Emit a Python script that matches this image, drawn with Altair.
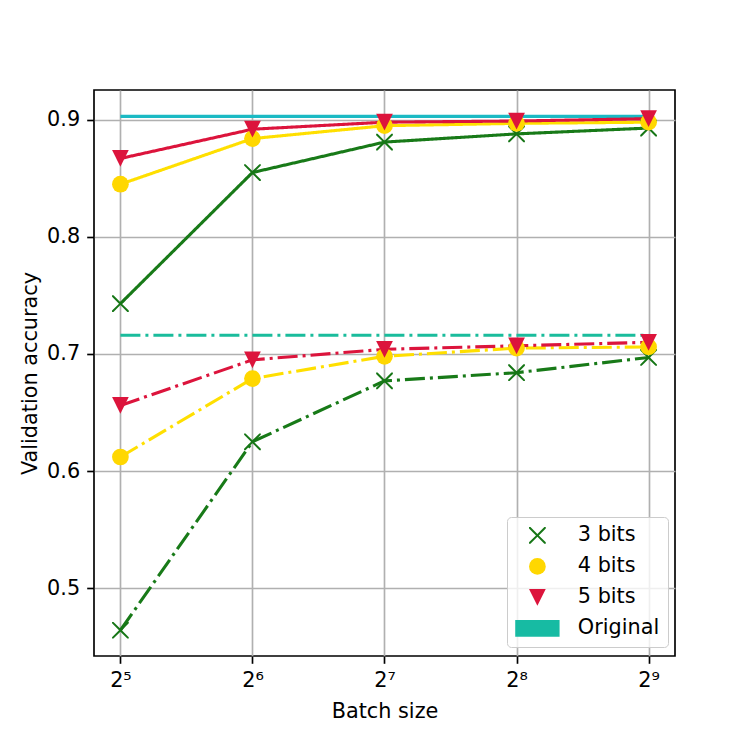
import altair as alt
import pandas as pd

# ---- data ----
batch_sizes = [32, 64, 128, 256, 512]
exponents = [5, 6, 7, 8, 9]
series_names = ["3 bits", "4 bits", "5 bits"]

solid_3bits = [0.743, 0.855, 0.881, 0.888, 0.893]
solid_4bits = [0.845, 0.884, 0.895, 0.897, 0.898]
solid_5bits = [0.867, 0.892, 0.898, 0.899, 0.901]

dashdot_3bits = [0.464, 0.625, 0.677, 0.684, 0.697]
dashdot_4bits = [0.612, 0.679, 0.698, 0.705, 0.706]
dashdot_5bits = [0.656, 0.695, 0.704, 0.707, 0.710]

original_solid = 0.903
original_dashdot = 0.716

y_ticks = [0.5, 0.6, 0.7, 0.8, 0.9]

# ---- build tables ----
rows = []
for name, solid, dd in [("3 bits", solid_3bits, dashdot_3bits),
                        ("4 bits", solid_4bits, dashdot_4bits),
                        ("5 bits", solid_5bits, dashdot_5bits)]:
    for b, v in zip(batch_sizes, solid):
        rows.append({"batch": b, "acc": v, "series": name, "style": "solid"})
    for b, v in zip(batch_sizes, dd):
        rows.append({"batch": b, "acc": v, "series": name, "style": "dashdot"})
df = pd.DataFrame(rows)

orig_solid_df = pd.DataFrame({"start": [batch_sizes[0]], "end": [batch_sizes[-1]], "acc": [original_solid]})
orig_dd_df = pd.DataFrame({"start": [batch_sizes[0]], "end": [batch_sizes[-1]], "acc": [original_dashdot]})

FONT = "DejaVu Sans"
FS = 20.8
LW = 3.1

sup = {5: "⁵", 6: "⁶", 7: "⁷", 8: "⁸", 9: "⁹"}
label_expr = ""
for b, e in zip(batch_sizes, exponents):
    label_expr += f"datum.value == {b} ? '2{sup[e]}' : "
label_expr += "''"

x_scale = alt.Scale(type="log", base=2, domain=[2 ** 4.8, 2 ** 9.2], nice=False, zero=False)
y_scale = alt.Scale(domain=[0.442, 0.9255], nice=False, zero=False)

x_axis = alt.Axis(values=batch_sizes, labelExpr=label_expr, title="Batch size",
                  grid=True, labelFlush=False)
y_axis = alt.Axis(values=y_ticks, format=".1f", title="Validation accuracy", grid=True)

domain_all = series_names + ["Original"]
color_range = ["#167616", "#FFD700", "#DC143C", "#17BBA3"]
line_range = ["#187A18", "#FFDF00", "#DC143C"]
k = 0.17
x_path = (f"M{1-k},1L1,1L1,{1-k}L{k},0L1,{-1+k}L1,-1L{1-k},-1L0,{-k}"
          f"L{-1+k},-1L-1,-1L-1,{-1+k}L{-k},0L-1,{1-k}L-1,1L{-1+k},1L0,{k}Z")
tri_path = "M-1,-1L1,-1L0,1Z"
rect_path = "M-2.65,-1H2.65V1H-2.65Z"
shape_range = [x_path, "circle", tri_path, rect_path]

color_scale = alt.Scale(domain=domain_all, range=color_range)
shape_scale = alt.Scale(domain=domain_all, range=shape_range)
line_scale = alt.Scale(domain=series_names, range=line_range)
dash_scale = alt.Scale(domain=["solid", "dashdot"], range=[[1, 0], [20, 5, 3, 5]])

legend = alt.Legend(title=None, orient="none", legendX=413, legendY=427,
                    labelFont=FONT, labelFontSize=FS, labelColor="black",
                    symbolSize=280, symbolStrokeWidth=0, symbolOpacity=1,
                    rowPadding=9, padding=8, symbolOffset=12, labelOffset=30,
                    fillColor="rgba(255,255,255,0.8)", strokeColor="#cccccc",
                    cornerRadius=4, labelLimit=300)

orig_solid_layer = alt.Chart(orig_solid_df).mark_rule(strokeWidth=LW, color="#1BBAC4").encode(
    x=alt.X("start:Q", scale=x_scale, axis=x_axis),
    x2="end:Q",
    y=alt.Y("acc:Q", scale=y_scale, axis=y_axis),
)
orig_dd_layer = alt.Chart(orig_dd_df).mark_rule(strokeWidth=LW, color="#1ABC9C",
                                                strokeDash=[20, 5, 3, 5]).encode(
    x=alt.X("start:Q", scale=x_scale),
    x2="end:Q",
    y=alt.Y("acc:Q", scale=y_scale),
)

lines = alt.Chart(df).mark_line(strokeWidth=LW).encode(
    x=alt.X("batch:Q", scale=x_scale),
    y=alt.Y("acc:Q", scale=y_scale),
    stroke=alt.Stroke("series:N", scale=line_scale, legend=None),
    strokeDash=alt.StrokeDash("style:N", scale=dash_scale, legend=None),
    detail="style:N",
)

points = alt.Chart(df).mark_point(filled=True, opacity=1, size=280, strokeWidth=0).encode(
    x=alt.X("batch:Q", scale=x_scale),
    y=alt.Y("acc:Q", scale=y_scale),
    color=alt.Color("series:N", scale=color_scale, legend=legend),
    shape=alt.Shape("series:N", scale=shape_scale, legend=legend),
    order=alt.Order("series:N"),
)

chart = alt.layer(orig_solid_layer, orig_dd_layer, lines, points).properties(
    width=581, height=566,
    autosize=alt.AutoSizeParams(type="none"),
    padding={"left": 86, "top": 82, "right": 67, "bottom": 94},
).configure_view(
    stroke="black", strokeWidth=1.67
).configure_axis(
    labelFont=FONT, labelFontSize=FS, labelColor="black",
    titleFont=FONT, titleFontSize=FS, titleFontWeight="normal", titleColor="black",
    domain=False, tickColor="black", tickWidth=1.67, tickSize=7.3,
    gridColor="#b0b0b0", gridWidth=1.67, gridOpacity=1, labelPadding=7,
).configure_axisX(titlePadding=11).configure_axisY(titlePadding=6)

chart.save("out.html", embed_options={"renderer": "svg", "actions": False})
